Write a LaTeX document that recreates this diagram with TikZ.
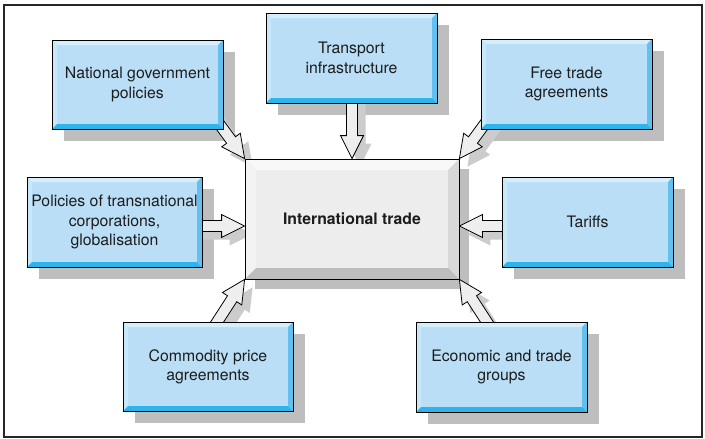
\documentclass[tikz,border=0pt]{standalone}
\usepackage{fontspec}
\setmainfont{TeX Gyre Heros}
\usetikzlibrary{calc}
\pgfdeclarelayer{bg}\pgfdeclarelayer{mid}\pgfsetlayers{bg,mid,main}
\definecolor{bface}{HTML}{B9DEF6}
\definecolor{btop}{HTML}{D6EEFB}
\definecolor{bleft}{HTML}{C8E7F9}
\definecolor{bright}{HTML}{62BFEE}
\definecolor{bbot}{HTML}{2DB5EB}
\definecolor{cface}{HTML}{EDEDED}
\definecolor{ctop}{HTML}{F8F8F8}
\definecolor{cleft}{HTML}{F3F3F3}
\definecolor{cright}{HTML}{D8D8D8}
\definecolor{cbot}{HTML}{BDBDBD}
\definecolor{shad}{HTML}{BEBEBE}
\definecolor{ashad}{HTML}{CCCCCC}
\definecolor{afill}{HTML}{EEEEEE}
\definecolor{txt}{HTML}{1C1C1C}
\def\bevelfill#1#2#3#4#5{%
  \path (path picture bounding box.north west) coordinate (qa)
        (path picture bounding box.north east) coordinate (qb)
        (path picture bounding box.south east) coordinate (qc)
        (path picture bounding box.south west) coordinate (qd);
  \fill[#2] (qa) -- (qb) -- ([shift={(-#1,-#1)}]qb) -- ([shift={(#1,-#1)}]qa) -- cycle;
  \fill[#3] (qa) -- ([shift={(#1,-#1)}]qa) -- ([shift={(#1,#1)}]qd) -- (qd) -- cycle;
  \fill[#4] (qb) -- (qc) -- ([shift={(-#1,#1)}]qc) -- ([shift={(-#1,-#1)}]qb) -- cycle;
  \fill[#5] (qd) -- (qc) -- ([shift={(-#1,#1)}]qc) -- ([shift={(#1,#1)}]qd) -- cycle;
}
% block arrow from start #2 to tip #3
\newcommand\blockarr[3][]{%
  \path[#1] (#3) -- ($(#3)!25.715pt!26.565:(#2)$) -- ($(#3)!23.648pt!13.449:(#2)$)
    -- ($(#2)!5.5pt!-90:(#3)$) -- ($(#2)!5.5pt!90:(#3)$)
    -- ($(#3)!23.648pt!-13.449:(#2)$) -- ($(#3)!25.715pt!-26.565:(#2)$) -- cycle;
}
\tikzset{
  bluebox/.style={draw=black, line width=0.8pt, fill=bface,
    minimum width=171pt, minimum height=90pt, inner sep=2pt, align=center,
    text=txt, font=\fontsize{15.8}{19.3}\selectfont,
    path picture={\bevelfill{5pt}{btop}{bleft}{bright}{bbot}}},
  centrebox/.style={draw=black, line width=0.8pt, fill=cface,
    minimum width=214pt, minimum height=120pt, inner sep=2pt, align=center,
    text=txt, font=\fontsize{15.8}{19.3}\selectfont\bfseries,
    path picture={\bevelfill{11pt}{ctop}{cleft}{cright}{cbot}}},
  arrowbody/.style={draw=black, line width=0.8pt, fill=afill, line join=miter},
  arrowshadow/.style={fill=ashad},
  boxshadow/.style={fill=shad},
}
\begin{document}
\begin{tikzpicture}[x=1pt,y=-1pt]
\useasboundingbox (0,0) rectangle (705,439);

\node[centrebox] (c) at (352,219) {International trade};
\node[bluebox] (tr) at (351.5,58) {Transport\\infrastructure};
\node[bluebox, minimum height=89pt] (ng) at (137.5,84.5) {National government\\policies};
\node[bluebox] (ft) at (566.5,84) {Free trade\\agreements};
\node[bluebox, minimum width=175pt] (pt) at (114.5,222) {Policies of transnational\\corporations,\\globalisation};
\node[bluebox] (ta) at (587.5,222) {Tariffs};
\node[bluebox, minimum width=170pt, minimum height=89pt] (cp) at (208,366.5) {Commodity price\\agreements};
\node[bluebox] (eg) at (501.5,367) {Economic and trade\\groups};

% arrow start points (inside source boxes) and tips
\coordinate (s1) at (352,95);
\coordinate (s2) at (212,114);
\coordinate (s3) at (492,114);
\coordinate (s4) at (195,226);
\coordinate (s5) at (509,226);
\coordinate (s6) at (210,333);
\coordinate (s7) at (494,333);
\coordinate (tw) at ($(c.west)+(0,7)$);
\coordinate (te) at ($(c.east)+(0,7)$);

\begin{pgfonlayer}{bg}
  \fill[white] (0,0) rectangle (705,439);
  \draw[line width=1.3pt, black!85] (4,5) rectangle (702,437);
  \foreach \n in {tr,ng,ft,pt,ta,cp,eg}
    \fill[boxshadow] ([shift={(12pt,-12pt)}]\n.south west) rectangle ([shift={(12pt,-12pt)}]\n.north east);
  \fill[boxshadow] ([shift={(10pt,-10pt)}]c.south west) rectangle ([shift={(10pt,-10pt)}]c.north east);
  \begin{scope}[transform canvas={shift={(8pt,-8pt)}}]
    \blockarr[arrowshadow]{s1}{c.north}
    \blockarr[arrowshadow]{s2}{c.north west}
    \blockarr[arrowshadow]{s3}{c.north east}
    \blockarr[arrowshadow]{s4}{tw}
    \blockarr[arrowshadow]{s5}{te}
    \blockarr[arrowshadow]{s6}{c.south west}
    \blockarr[arrowshadow]{s7}{c.south east}
  \end{scope}
\end{pgfonlayer}
\begin{pgfonlayer}{mid}
  \blockarr[arrowbody]{s1}{c.north}
  \blockarr[arrowbody]{s2}{c.north west}
  \blockarr[arrowbody]{s3}{c.north east}
  \blockarr[arrowbody]{s4}{tw}
  \blockarr[arrowbody]{s5}{te}
  \blockarr[arrowbody]{s6}{c.south west}
  \blockarr[arrowbody]{s7}{c.south east}
\end{pgfonlayer}
\end{tikzpicture}
\end{document}
